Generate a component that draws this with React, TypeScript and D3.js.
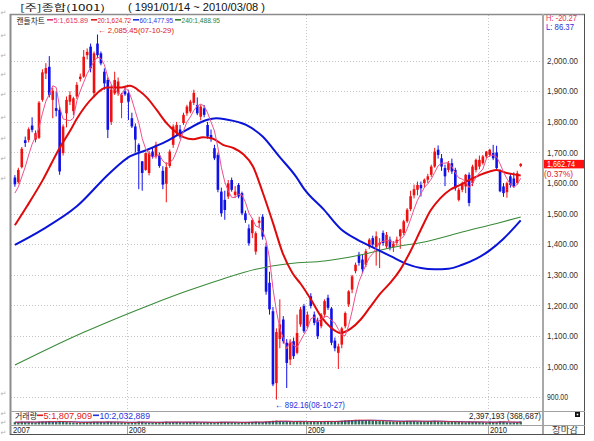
import React from 'react';
import * as d3 from 'd3';

// Weekly KOSPI candles [open, high, low, close], week of 2007-05-14 .. 2010-03-08
const ohlc: [number, number, number, number][] = [
  [1618, 1626, 1588, 1596], [1603, 1650, 1598, 1643], [1652, 1718, 1648, 1712], [1740, 1752, 1718, 1731],
  [1741, 1782, 1733, 1776], [1788, 1815, 1766, 1774], [1742, 1772, 1733, 1763], [1748, 1868, 1744, 1863],
  [1872, 1972, 1866, 1962], [1958, 1992, 1940, 1976], [1980, 2015, 1880, 1888], [1872, 1912, 1812, 1902],
  [1845, 1900, 1818, 1836], [1839, 1850, 1627, 1638], [1698, 1792, 1690, 1785], [1828, 1883, 1782, 1872],
  [1866, 1900, 1855, 1888], [1835, 1882, 1822, 1877], [1883, 1930, 1875, 1921], [1940, 1958, 1932, 1948],
  [1948, 2035, 1944, 2013], [2018, 2040, 2004, 2029], [2046, 2056, 1962, 1975], [1894, 2030, 1880, 2024],
  [2056, 2085.45, 2008, 2018], [2024, 2030, 1985, 1991], [1964, 1975, 1905, 1926], [1937, 1945, 1747, 1774],
  [1800, 1922, 1790, 1906], [1893, 1964, 1888, 1937], [1893, 1945, 1885, 1932], [1862, 1895, 1812, 1888],
  [1900, 1915, 1885, 1890], [1893, 1905, 1806, 1866], [1812, 1830, 1780, 1785], [1785, 1795, 1700, 1742],
  [1725, 1730, 1580, 1703], [1671, 1672, 1575, 1633], [1643, 1700, 1640, 1698], [1633, 1705, 1625, 1698],
  [1703, 1715, 1680, 1687], [1687, 1735, 1680, 1725], [1690, 1700, 1650, 1656], [1640, 1655, 1580, 1595],
  [1598, 1668, 1537, 1652], [1656, 1710, 1650, 1703], [1725, 1792, 1715, 1785], [1765, 1800, 1755, 1790],
  [1775, 1790, 1745, 1752], [1796, 1830, 1790, 1823], [1828, 1856, 1820, 1850], [1834, 1872, 1828, 1866],
  [1862, 1905, 1855, 1895], [1855, 1880, 1822, 1828], [1817, 1856, 1805, 1850], [1844, 1855, 1815, 1823],
  [1790, 1800, 1745, 1752], [1757, 1775, 1735, 1746], [1714, 1725, 1675, 1681], [1692, 1700, 1570, 1578],
  [1572, 1585, 1490, 1501], [1545, 1575, 1480, 1512], [1556, 1610, 1548, 1599], [1610, 1618, 1572, 1578],
  [1561, 1590, 1552, 1572], [1594, 1600, 1550, 1556], [1567, 1572, 1495, 1501], [1501, 1510, 1470, 1479],
  [1452, 1465, 1395, 1403], [1436, 1485, 1420, 1479], [1376, 1442, 1366, 1436], [1470, 1490, 1455, 1477],
  [1490, 1498, 1415, 1425], [1392, 1405, 1235, 1245], [1274, 1310, 1170, 1187], [1181, 1195, 936, 942],
  [946, 1125, 892.16, 1113], [1090, 1220, 1060, 1138], [1154, 1165, 1075, 1083], [1078, 1090, 930, 1012],
  [1023, 1090, 1005, 1078], [1083, 1095, 1025, 1034], [1045, 1170, 1040, 1110], [1138, 1195, 1130, 1187],
  [1198, 1205, 1110, 1116], [1132, 1180, 1125, 1170], [1230, 1240, 1190, 1198], [1170, 1180, 1135, 1143],
  [1150, 1160, 1090, 1099], [1132, 1175, 1125, 1170], [1170, 1220, 1160, 1214], [1225, 1235, 1185, 1192],
  [1190, 1195, 1070, 1078], [1085, 1095, 1050, 1060], [1045, 1075, 992, 1066], [1072, 1130, 1060, 1125],
  [1132, 1180, 1125, 1175], [1203, 1250, 1195, 1246], [1252, 1300, 1240, 1295], [1312, 1340, 1305, 1333],
  [1366, 1375, 1330, 1339], [1350, 1368, 1305, 1318], [1333, 1385, 1325, 1377], [1393, 1420, 1385, 1415],
  [1420, 1428, 1390, 1399], [1390, 1442, 1330, 1426], [1400, 1420, 1322, 1405], [1437, 1445, 1395, 1404],
  [1393, 1440, 1385, 1431], [1415, 1425, 1380, 1388], [1390, 1410, 1375, 1402], [1405, 1425, 1395, 1415],
  [1426, 1450, 1385, 1448], [1437, 1480, 1430, 1475], [1475, 1518, 1470, 1513], [1515, 1575, 1508, 1557],
  [1560, 1595, 1550, 1580], [1578, 1605, 1560, 1594], [1594, 1605, 1556, 1583], [1600, 1615, 1585, 1611],
  [1611, 1630, 1600, 1622], [1627, 1660, 1620, 1654], [1654, 1715, 1650, 1703], [1709, 1723, 1680, 1692],
  [1681, 1695, 1640, 1654], [1649, 1660, 1590, 1622], [1643, 1672, 1635, 1665], [1665, 1680, 1630, 1638],
  [1643, 1650, 1575, 1583], [1545, 1585, 1540, 1578], [1578, 1605, 1570, 1600], [1589, 1630, 1567, 1627],
  [1627, 1635, 1524, 1535], [1600, 1660, 1590, 1654], [1643, 1680, 1635, 1676], [1654, 1690, 1645, 1676],
  [1665, 1692, 1660, 1687], [1687, 1705, 1680, 1703], [1692, 1712, 1685, 1709], [1698, 1725, 1675, 1681],
  [1700, 1722, 1640, 1649], [1640, 1645, 1570, 1573], [1589, 1600, 1555, 1567], [1570, 1605, 1552, 1600],
  [1622, 1630, 1585, 1594], [1615, 1635, 1585, 1590], [1600, 1640, 1595, 1632], [1656, 1665, 1652, 1662.74],
];

// closes of the four weeks before the first visible candle (for the 5-week average)
const prevCloses = [1540, 1552, 1566, 1582];

// weekly volume (thousand shares / 1000)
const volumes = [
  1850, 1920, 2100, 1980, 2050, 1760, 1690, 2230, 2410, 2280,
  2560, 2190, 1980, 2870, 2340, 1950, 1720, 1680, 1540, 1620,
  1890, 1930, 2040, 2210, 2150, 1980, 1870, 2260, 2010, 1820,
  1750, 1690, 1380, 1560, 1780, 1920, 2340, 2150, 1690, 1580,
  1620, 1710, 1840, 1960, 2230, 1880, 1930, 2010, 1820, 1750,
  1880, 1960, 2040, 1790, 1660, 1720, 1810, 1690, 1570, 1880,
  2120, 2050, 1840, 1710, 1650, 1590, 1720, 1830, 1920, 2080,
  2260, 1940, 1880, 2340, 2650, 2980, 3120, 2740, 2310, 2480,
  2290, 2160, 2370, 2540, 2290, 1980, 2450, 2610, 2380, 2270,
  2530, 2690, 2420, 2360, 2710, 2980, 3240, 3410, 3560, 3720,
  3650, 3380, 3290, 3510, 3160, 2940, 2870, 2760, 2590, 2480,
  2350, 2420, 2610, 2780, 2930, 2860, 2710, 2540, 2390, 2470,
  2620, 2810, 2940, 2530, 2280, 2160, 2090, 2140, 2270, 2010,
  1890, 1830, 2260, 2120, 2030, 1960, 1720, 1450, 2180, 1900,
  2000, 2480, 2290, 1700, 1600, 1690, 1780, 2397,
];

// moving averages: [week index, value]
const ma20Pts: [number, number][] = [
  [0, 1462], [3.5, 1524], [8, 1608], [13, 1715], [16, 1770], [18, 1810], [22.7, 1880], [26.6, 1912],
  [30.5, 1912], [33.4, 1918], [36.3, 1900], [38.3, 1880], [41.2, 1839], [44, 1797], [47, 1765], [49, 1750],
  [51.8, 1743], [54.7, 1750], [57.6, 1745], [60.5, 1725], [63.4, 1715], [66.3, 1695], [69.2, 1654], [72, 1570],
  [75, 1470], [77.8, 1372], [80.7, 1305], [83.1, 1270], [86, 1220], [88.9, 1165], [91.8, 1128], [94.7, 1110],
  [97.6, 1124], [100.5, 1154], [103.4, 1197], [106.3, 1240], [109.2, 1275], [112, 1317], [115, 1378], [118, 1448],
  [120.8, 1510], [123.6, 1550], [126.5, 1578], [129.4, 1594], [132.3, 1611], [135.2, 1627], [138, 1638], [140, 1643],
  [142.9, 1633], [145.8, 1627], [147, 1624.72],
];
const ma60Pts: [number, number][] = [
  [0, 1398], [8, 1448], [18, 1524], [27.6, 1633], [33.4, 1687], [38.3, 1708], [44, 1736], [49.9, 1774],
  [55.7, 1806], [58.5, 1812], [61.4, 1808], [67.2, 1790], [72, 1752], [76.8, 1687], [81.7, 1621], [84.1, 1580],
  [89.8, 1513], [94.7, 1450], [99.5, 1415], [104.3, 1388], [109.2, 1361], [114, 1335], [118, 1322], [122, 1318],
  [126, 1320], [130, 1333], [134, 1352], [138, 1380], [142, 1418], [147, 1477.95],
];
const ma240Pts: [number, number][] = [
  [0, 1005], [10, 1060], [20, 1112], [30, 1160], [40, 1205], [50, 1247], [60, 1285], [70, 1318],
  [80, 1337], [90, 1345], [100, 1364], [110, 1390], [120, 1410], [130, 1440], [140, 1468], [147, 1488.95],
];

const priceTicks = [900, 1000, 1100, 1200, 1300, 1400, 1500, 1600, 1700, 1800, 1900, 2000];
const yearLabels = ['2008', '2009', '2010'];
const yearIdx = [32.5, 84.5, 137.5];
const firstYearLabel = '2007';

const legendTexts = ['5:1,615.89', '20:1,624.72', '60:1,477.95', '240:1,488.95'];
const legendColors = ['#e8306e', '#e01818', '#1e32e0', '#2e7d32'];
const legendX = [47, 91, 133, 175];
const legendW = [41, 40, 40, 45];

const volLegendTexts = ['5:1,807,909', '10:2,032,889'];
const volLegendColors = ['#e01818', '#1e32e0'];
const volLegendX = [37, 93];
const volLegendW = [55, 57];

const leftMarksY = [12, 35, 55, 74, 94, 117, 138, 158, 178, 393, 413, 422, 432];

const W = 594;
const H = 441;
const plotL = 11;
const plotR = 543;
const plotT = 15;
const plotB = 411;
const volT = 412;
const volB = 424.5;
const axisB = 435;
const UP = '#f01010';
const DOWN = '#1010e8';
const NUM_FONT = "'Liberation Sans', 'DejaVu Sans', sans-serif";
const KR_FONT = "'Noto Sans CJK KR', sans-serif";

export default function App() {
  const n = ohlc.length;
  const x = d3.scaleLinear().domain([0, n - 1]).range([14.9, 520.7]);
  const y = d3.scaleLinear().domain([900, 2000]).range([397.2, 60.7]);
  const v = d3.scaleLinear().domain([0, 10000]).range([volB, volT]);

  const closes = ohlc.map((d) => d[3]);
  const allCloses = prevCloses.concat(closes);
  const ma5 = closes.map((_, i) => d3.mean(allCloses.slice(i, i + 5)) as number);

  const volMA = (k: number) =>
    volumes.map((_, i) => d3.mean(volumes.slice(Math.max(0, i - k + 1), i + 1)) as number);
  const vol5 = volMA(5);
  const vol10 = volMA(10);

  const lineIdx = d3.line<number>().x((_, i) => x(i)).y((d) => y(d));
  const lineSmooth = d3
    .line<[number, number]>()
    .x((d) => x(d[0]))
    .y((d) => y(d[1]))
    .curve(d3.curveMonotoneX);
  const lineVol = d3.line<number>().x((_, i) => x(i)).y((d) => v(d));

  const hiIdx = d3.maxIndex(ohlc, (d) => d[1]);
  const loIdx = d3.minIndex(ohlc, (d) => d[2]);
  const last = ohlc[n - 1];
  const fmt2 = d3.format(',.2f');
  const yearX = yearIdx.map((i) => x(i));

  return (
    <svg
      width={W}
      height={H}
      style={{ position: 'absolute', left: 0, top: 0, background: '#fff' }}
      fontFamily={NUM_FONT}
    >
      <rect width={W} height={H} fill="#fff" />
      <defs>
        <clipPath id="plotClip">
          <rect x={plotL} y={plotT} width={plotR - plotL} height={plotB - plotT} />
        </clipPath>
      </defs>

      {leftMarksY.map((yy, i) => (
        <text key={'m' + i} x={0.5} y={yy + 3} fontSize={7} fill="#b0b0b0">
          ↵
        </text>
      ))}

      {/* title */}
      <text x={20} y={10.5} fontSize={9} fill="#111" fontFamily={KR_FONT} textLength={85} lengthAdjust="spacingAndGlyphs">
        [주]종합(1001)
      </text>
      <text x={128} y={10.5} fontSize={10} fill="#111" textLength={137} lengthAdjust="spacingAndGlyphs">
        ( 1991/01/14 ~ 2010/03/08 )
      </text>

      {/* grid */}
      {priceTicks.map((p) => (
        <line key={'g' + p} x1={plotL} x2={plotR} y1={Math.round(y(p)) + 0.5} y2={Math.round(y(p)) + 0.5} stroke="#c4c4c4" strokeDasharray="1,2" />
      ))}
      {yearX.map((xx, i) => (
        <line key={'vg' + i} x1={Math.round(xx) + 0.5} x2={Math.round(xx) + 0.5} y1={plotT} y2={volB} stroke="#c4c4c4" strokeDasharray="1,2" />
      ))}

      {/* candles */}
      <g clipPath="url(#plotClip)">
        {ohlc.map(([o, h, l, c], i) => {
          const cx = x(i);
          const col = c >= o ? UP : DOWN;
          const yt = y(Math.max(o, c));
          const yb = y(Math.min(o, c));
          return (
            <g key={'c' + i}>
              <line x1={cx} x2={cx} y1={y(h)} y2={y(l)} stroke={col} strokeWidth={1} />
              <rect x={cx - 1.3} y={yt} width={2.6} height={Math.max(1, yb - yt)} fill={col} />
            </g>
          );
        })}
        <path d={lineSmooth(ma240Pts) || ''} fill="none" stroke="#3a8a3a" strokeWidth={1.1} />
        <path d={lineSmooth(ma60Pts) || ''} fill="none" stroke="#0a14d8" strokeWidth={2} />
        <path d={lineSmooth(ma20Pts) || ''} fill="none" stroke="#e00a0a" strokeWidth={2} />
        <path d={lineIdx(ma5) || ''} fill="none" stroke="#f0508a" strokeWidth={1} />
      </g>

      {/* legend */}
      <text x={16.5} y={23.5} fontSize={8} fill="#222" fontFamily={KR_FONT} textLength={28.5} lengthAdjust="spacingAndGlyphs">
        캔들차트
      </text>
      {legendTexts.map((t, i) => (
        <g key={'l' + i}>
          <rect x={legendX[i]} y={19} width={6} height={1.6} fill={legendColors[i]} />
          <text x={legendX[i] + 6.5} y={23} fontSize={8} fill={legendColors[i]} textLength={legendW[i] - 6.5} lengthAdjust="spacingAndGlyphs">
            {t}
          </text>
        </g>
      ))}

      {/* annotations */}
      <text x={x(hiIdx) + 0.5} y={y(ohlc[hiIdx][1]) - 2} fontSize={8} fill="#e01818" textLength={76} lengthAdjust="spacingAndGlyphs">
        {'← ' + fmt2(ohlc[hiIdx][1]) + '(07-10-29)'}
      </text>
      <text x={x(loIdx) - 1.5} y={y(ohlc[loIdx][2]) + 8.5} fontSize={8.5} fill="#1e32e0" textLength={70} lengthAdjust="spacingAndGlyphs">
        {'← ' + fmt2(ohlc[loIdx][2]) + '(08-10-27)'}
      </text>

      {/* right price axis */}
      {priceTicks.map((p) => {
        const s = fmt2(p);
        return (
          <text key={'t' + p} x={547} y={y(p) + 3.2} fontSize={9} fill="#333" textLength={s.length === 8 ? 31 : 21} lengthAdjust="spacingAndGlyphs">
            {s}
          </text>
        );
      })}
      <text x={546} y={21} fontSize={8.5} fill="#e8305a" textLength={31} lengthAdjust="spacingAndGlyphs">
        H: -20.27
      </text>
      <text x={546} y={29.5} fontSize={8.5} fill="#2a2ae0" textLength={28} lengthAdjust="spacingAndGlyphs">
        L: 86.37
      </text>
      <rect x={543} y={y(last[3]) - 4} width={42} height={8.5} fill="#ff1010" />
      <text x={547} y={y(last[3]) + 3.2} fontSize={8.5} fill="#fff" textLength={28} lengthAdjust="spacingAndGlyphs">
        {fmt2(last[3])}
      </text>
      <text x={544} y={y(last[3]) + 13} fontSize={8.5} fill="#e01818" textLength={29} lengthAdjust="spacingAndGlyphs">
        (0.37%)
      </text>

      {/* volume pane */}
      {volumes.map((vv, i) => (
        <rect key={'v' + i} x={x(i) - 1.2} y={v(vv)} width={2.4} height={volB - v(vv)} fill="#2a6e58" />
      ))}
      <path d={lineVol(vol10) || ''} fill="none" stroke="#1e32e0" strokeWidth={0.8} />
      <path d={lineVol(vol5) || ''} fill="none" stroke="#e01818" strokeWidth={0.8} />
      <text x={15} y={418.5} fontSize={8.5} fill="#222" fontFamily={KR_FONT} textLength={22} lengthAdjust="spacingAndGlyphs">
        거래량
      </text>
      {volLegendTexts.map((t, i) => (
        <g key={'vl' + i}>
          <rect x={volLegendX[i]} y={414.5} width={6} height={1.6} fill={volLegendColors[i]} />
          <text x={volLegendX[i] + 6.5} y={418.5} fontSize={8.5} fill={volLegendColors[i]} textLength={volLegendW[i] - 6.5} lengthAdjust="spacingAndGlyphs">
            {t}
          </text>
        </g>
      ))}
      <text x={469} y={418.5} fontSize={8.5} fill="#222" textLength={72} lengthAdjust="spacingAndGlyphs">
        2,397,193 (368,687)
      </text>
      <rect x={575} y={412} width={5} height={5} fill="#111" />
      <rect x={576.7} y={413.7} width={1.6} height={1.6} fill="#fff" />

      {/* time axis */}
      <text x={13} y={433} fontSize={9} fill="#222" textLength={17} lengthAdjust="spacingAndGlyphs">
        {firstYearLabel}
      </text>
      {yearX.map((xx, i) => (
        <g key={'y' + i}>
          <line x1={Math.round(xx) + 0.5} x2={Math.round(xx) + 0.5} y1={volB + 1} y2={axisB} stroke="#a0a0a0" />
          <text x={xx + 2} y={433} fontSize={9} fill="#222" textLength={17} lengthAdjust="spacingAndGlyphs">
            {yearLabels[i]}
          </text>
        </g>
      ))}
      <text x={552} y={433} fontSize={9} fill="#333" fontFamily={KR_FONT} textLength={26} lengthAdjust="spacingAndGlyphs">
        장마감
      </text>

      {/* frame */}
      <line x1={10} x2={585} y1={14.5} y2={14.5} stroke="#8c8c8c" strokeWidth={1.5} />
      <line x1={10.5} x2={10.5} y1={14} y2={axisB} stroke="#8c8c8c" strokeWidth={2} />
      <line x1={543} x2={543} y1={14} y2={axisB} stroke="#a8a8a8" strokeWidth={2} />
      <line x1={584.5} x2={584.5} y1={14} y2={axisB} stroke="#505050" strokeWidth={1} />
      <line x1={10} x2={585} y1={plotB + 0.5} y2={plotB + 0.5} stroke="#a0a0a0" strokeWidth={1} />
      <line x1={10} x2={585} y1={volB + 1} y2={volB + 1} stroke="#a0a0a0" strokeWidth={1} />
      <line x1={10} x2={585} y1={axisB - 0.5} y2={axisB - 0.5} stroke="#505050" strokeWidth={1} />
    </svg>
  );
}
